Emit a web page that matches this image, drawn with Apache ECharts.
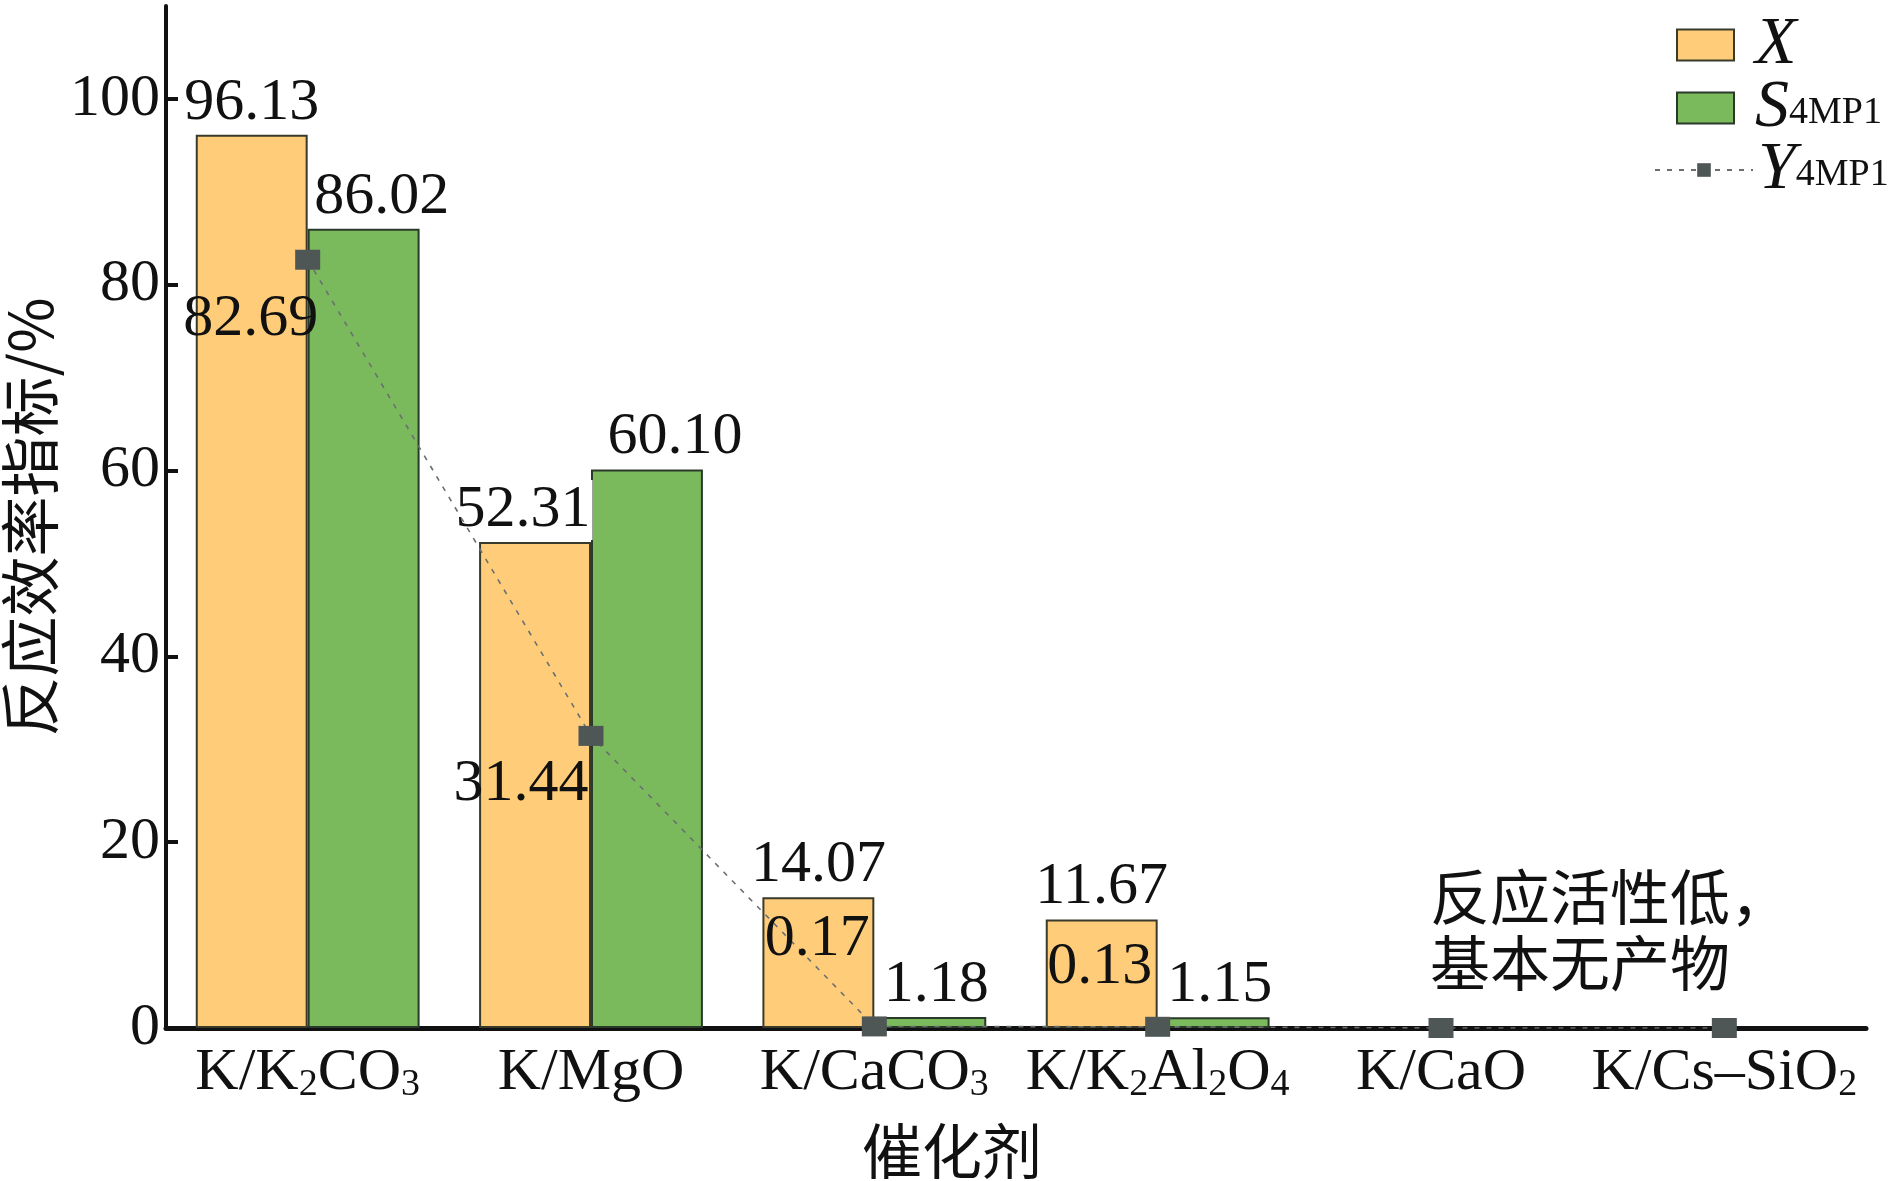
<!DOCTYPE html>
<html>
<head>
<meta charset="utf-8">
<script src="https://cdn.jsdelivr.net/npm/echarts@6/dist/echarts.min.js"></script>
<style>
html,body{margin:0;padding:0;background:#fff;}
#c{width:1890px;height:1181px;}
</style>
</head>
<body>
<div id="c"></div>
<script>
const categories = ['K/K2CO3', 'K/MgO', 'K/CaCO3', 'K/K2Al2O4', 'K/CaO', 'K/Cs–SiO2'];
const seriesNames = ['X', 'S4MP1', 'Y4MP1'];
const conversionX = [96.13, 52.31, 14.07, 11.67, null, null];
const selectivityS = [86.02, 60.10, 1.18, 1.15, null, null];
const yieldY = [82.69, 31.44, 0.17, 0.13, 0, 0];
const yTicks = [0, 20, 40, 60, 80, 100];
const note = '反应活性低，\n基本无产物';

const SERIF = '"Liberation Serif", "Times New Roman", "Noto Sans CJK SC", serif';
const CJK = '"Noto Sans CJK SC", "Liberation Serif", sans-serif';
const FS = 60;

// label placement styles (kept separate from the data)
const yLabelOffsets = [[-57, 60], [-70, 48], [-57, -87], [-58, -60], [0, 0], [0, 0]];
const sLabelOffsets = [[18, 0], [28, 0], [6, 0], [6, 0], [0, 0], [0, 0]];
const xLabelOffsets = [[0, 0], [-12, 0], [0, 0], [0, 0], [0, 0], [0, 0]];

const chart = echarts.init(document.getElementById('c'));

const subRich = {
  sub: { fontSize: 38, lineHeight: 30, verticalAlign: 'bottom', fontFamily: SERIF, color: '#111' }
};

const legendFmt = function (name) {
  if (name === 'X') return '{i|X}';
  return '{i|' + name.charAt(0) + '}{s|' + name.slice(1) + '}';
};
function legendRich(padLeft) {
  return {
    i: { fontStyle: 'italic', fontSize: 68, lineHeight: 48, fontFamily: SERIF, color: '#111', padding: [0, 0, 0, padLeft] },
    s: { fontSize: 38, lineHeight: 24, verticalAlign: 'bottom', fontFamily: SERIF, color: '#111' }
  };
}
function makeLegend(name, left, top, w, h, icon, padLeft) {
  const l = {
    data: [name],
    orient: 'vertical', left: left, top: top,
    itemWidth: w, itemHeight: h, padding: 0,
    formatter: legendFmt,
    textStyle: { rich: legendRich(padLeft) }
  };
  if (icon) l.icon = icon;
  return l;
}

const option = {
  backgroundColor: '#fff',
  animation: false,
  grid: { left: 166, right: 24, top: 6, bottom: 153, containLabel: false, outerBoundsMode: 'none' },
  legend: [
    makeLegend(seriesNames[0], 1676, 11, 57, 31, 'rect', 16),
    makeLegend(seriesNames[1], 1676, 74, 57, 31, 'rect', 16),
    makeLegend(seriesNames[2], 1654, 136, 98, 17, null, 0)
  ],
  xAxis: {
    type: 'category',
    data: categories,
    name: '催化剂',
    nameLocation: 'middle',
    nameGap: 93,
    nameMoveOverlap: false,
    nameTextStyle: { fontSize: 60, fontFamily: CJK, color: '#111', padding: [0, 128, 0, 0] },
    axisLine: { lineStyle: { color: '#111', width: 5 } },
    axisTick: { show: false },
    axisLabel: {
      fontSize: FS, fontFamily: SERIF, color: '#111', margin: 14, lineHeight: 62,
      interval: 0,
      formatter: function (v) { return v.replace(/(\d)/g, '{sub|$1}'); },
      rich: subRich
    }
  },
  yAxis: {
    type: 'value',
    min: 0, max: 110, interval: 20,
    name: '反应效率指标/%',
    nameLocation: 'middle',
    nameRotate: 90,
    nameGap: 106,
    nameMoveOverlap: false,
    nameTextStyle: { fontSize: 60, fontFamily: CJK, color: '#111' },
    splitLine: { show: false },
    axisLine: { show: true, lineStyle: { color: '#111', width: 4 } },
    axisTick: { show: true, inside: true, length: 12, lineStyle: { width: 4, color: '#111' }, customValues: yTicks },
    axisLabel: {
      fontSize: FS, fontFamily: SERIF, color: '#111', margin: 6,
      customValues: yTicks
    }
  },
  series: [
    {
      name: seriesNames[0],
      type: 'bar',
      data: conversionX.map(function (v, i) {
        const d = { value: v, label: { offset: xLabelOffsets[i] } };
        // white background behind the 52.31 label so the dashed line is hidden under it
        if (i === 1) { d.label.backgroundColor = '#fff'; d.label.padding = [0, 2, 0, 2]; }
        return d;
      }),
      barGap: '0%',
      barCategoryGap: '21%',
      itemStyle: { color: '#FFCC7A', borderColor: '#3a3a2a', borderWidth: 2 },
      label: {
        show: true, position: 'top', distance: 2,
        fontSize: FS, fontFamily: SERIF, color: '#111',
        formatter: function (p) { return p.value == null ? '' : p.value.toFixed(2); }
      }
    },
    {
      name: seriesNames[1],
      type: 'bar',
      data: selectivityS.map(function (v, i) {
        return { value: v, label: { offset: sLabelOffsets[i] } };
      }),
      itemStyle: { color: '#7AB95C', borderColor: '#2a3a2a', borderWidth: 2 },
      label: {
        show: true, position: 'top', distance: 2,
        fontSize: FS, fontFamily: SERIF, color: '#111',
        formatter: function (p) { return p.value == null ? '' : p.value.toFixed(2); }
      }
    },
    {
      name: seriesNames[2],
      type: 'line',
      data: yieldY.map(function (v, i) {
        return { value: v, label: { offset: yLabelOffsets[i] } };
      }),
      z: 5,
      symbol: 'rect',
      symbolSize: [25, 20],
      itemStyle: { color: '#4E5656' },
      lineStyle: { color: '#6a7070', width: 1.6, type: [5, 7] },
      label: {
        show: true, position: 'inside',
        fontSize: FS, fontFamily: SERIF, color: '#111',
        formatter: function (p) { return p.dataIndex >= 4 ? '' : p.value.toFixed(2); }
      }
    }
  ],
  graphic: [
    {
      type: 'text', left: 1430, top: 864,
      style: { text: note, font: '60px ' + CJK, lineHeight: 66, fill: '#111' }
    }
  ]
};

chart.setOption(option);
</script>
</body>
</html>
